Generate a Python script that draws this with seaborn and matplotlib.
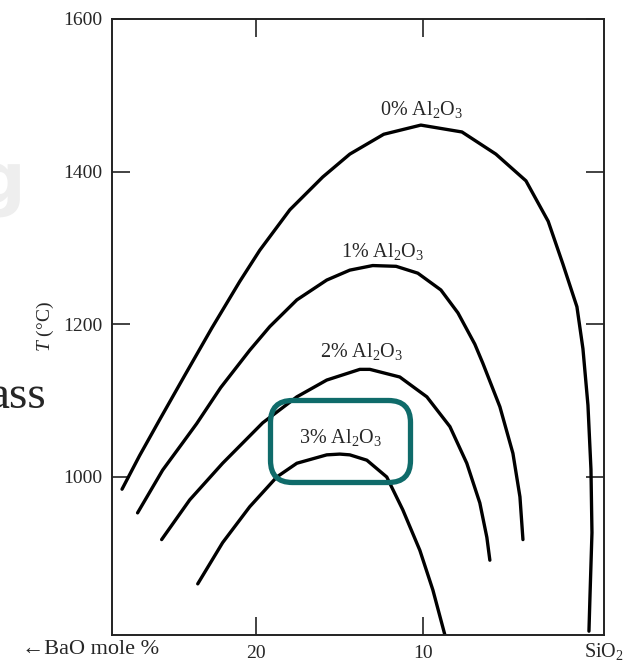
import numpy as np
import pandas as pd
import matplotlib
matplotlib.use("Agg")
import matplotlib.pyplot as plt
from matplotlib.patches import FancyBboxPatch
import seaborn as sns

# ---- data (BaO mole %, temperature in deg C) ----
bao_0 = [28.0, 26.95, 25.75, 24.25, 22.63, 20.96, 19.76, 17.96, 15.99, 14.37, 12.34, 10.12,
         7.66, 5.63, 3.83, 2.50, 1.62, 0.78, 0.42, 0.12, -0.06, -0.12, 0.0, 0.06]
t_0 = [984, 1028, 1075, 1133, 1195, 1256, 1297, 1350, 1393, 1423, 1449, 1461,
       1452, 1423, 1388, 1335, 1279, 1223, 1168, 1094, 1010, 927, 843, 798]

bao_1 = [27.07, 25.57, 24.43, 23.53, 22.10, 20.36, 19.16, 17.54, 15.75, 14.37, 13.0, 11.6,
         10.30, 8.92, 7.90, 6.89, 6.41, 5.39, 4.61, 4.19, 4.01]
t_1 = [953, 1009, 1043, 1070, 1117, 1166, 1197, 1232, 1258, 1271, 1277, 1276,
       1267, 1245, 1215, 1174, 1149, 1092, 1031, 974, 918]

bao_2 = [25.63, 23.95, 21.98, 19.58, 17.54, 15.75, 13.77, 13.17, 11.38, 9.76, 8.38, 7.37,
         6.59, 6.17, 5.99]
t_2 = [918, 970, 1018, 1071, 1105, 1127, 1141, 1141, 1131, 1105, 1066, 1018,
       966, 921, 891]

bao_3 = [23.47, 21.98, 20.36, 18.74, 17.54, 15.75, 14.97, 14.37, 13.35, 12.16, 11.20, 10.18,
         9.40, 8.68]
t_3 = [860, 914, 961, 1000, 1018, 1029, 1030, 1029, 1022, 1000, 957, 904,
       852, 793]

curve_names = ["0%", "1%", "2%", "3%"]
label_x = [10.06, 12.4, 13.65, 14.91]
label_y = [1481, 1295, 1165, 1052]

x_ticks = [20, 10]
x_ticklabels = ["20", "10"]
y_ticks = [1000, 1200, 1400, 1600]
y_ticklabels = ["1000", "1200", "1400", "1600"]

# ---- long table ----
frames = []
for name, xs, ts in zip(curve_names, [bao_0, bao_1, bao_2, bao_3], [t_0, t_1, t_2, t_3]):
    frames.append(pd.DataFrame({"curve": name, "bao": xs, "T": ts}))
df = pd.concat(frames, ignore_index=True)

sns.set_style("ticks")
plt.rcParams["font.family"] = ["Liberation Serif", "DejaVu Serif", "DejaVu Sans"]
plt.rcParams["mathtext.fontset"] = "custom"
plt.rcParams["mathtext.rm"] = "Liberation Serif"
plt.rcParams["mathtext.it"] = "Liberation Serif:italic"

fig = plt.figure(figsize=(6.44, 6.68), dpi=100)
ax = fig.add_axes([112 / 644, 1 - 635 / 668, (604 - 112) / 644, (635 - 19) / 668])

sns.lineplot(data=df, x="bao", y="T", units="curve", estimator=None, sort=False,
             color="black", linewidth=2.4, ax=ax, legend=False)
for ln in ax.lines:
    ln.set_solid_joinstyle("round")
    ln.set_solid_capstyle("round")

ax.set_xlim(28.6, -0.84)
ax.set_ylim(793, 1600)
ax.set_xticks(x_ticks)
ax.set_xticklabels(x_ticklabels)
ax.set_yticks(y_ticks)
ax.set_yticklabels(y_ticklabels)
ax.set_xlabel("")
ax.set_ylabel("$T$ (°C)", fontsize=14, labelpad=5)
ax.tick_params(direction="in", top=True, right=True, length=13, width=1.2,
               labelsize=14, color="#222222", pad=7)
for s in ax.spines.values():
    s.set_linewidth(1.4)
    s.set_color("#222222")

for name, lx, ly in zip(curve_names, label_x, label_y):
    ax.text(lx, ly, name + r" Al$_2$O$_3$", fontsize=14.5, ha="center", va="center")

# axis end labels
fig.text(22 / 644, 1 - 650 / 668, "←BaO mole %", fontsize=16, ha="left", va="center",
         family=["Liberation Serif", "DejaVu Sans"])
fig.text(604 / 644, 1 - 651 / 668, r"SiO$_2$", fontsize=14.5, ha="center", va="center")

# highlight box around 3% label
box = FancyBboxPatch((2.705, 1.855), 1.40, 0.82,
                     boxstyle="round,pad=0,rounding_size=0.22",
                     transform=fig.dpi_scale_trans, fill=False,
                     edgecolor="#0f6b6a", linewidth=3.8, zorder=10)
fig.patches.append(box)

# cropped text fragments at the left edge
fig.text(46 / 644, 1 - 408 / 668, "ass", fontsize=34, ha="right", va="baseline")
fig.text(26 / 644, 1 - 185 / 668, "g", fontsize=50, fontweight="bold", color="#eeeeee",
         ha="right", va="center", family="DejaVu Sans")

fig.savefig("out.png", dpi=100)
